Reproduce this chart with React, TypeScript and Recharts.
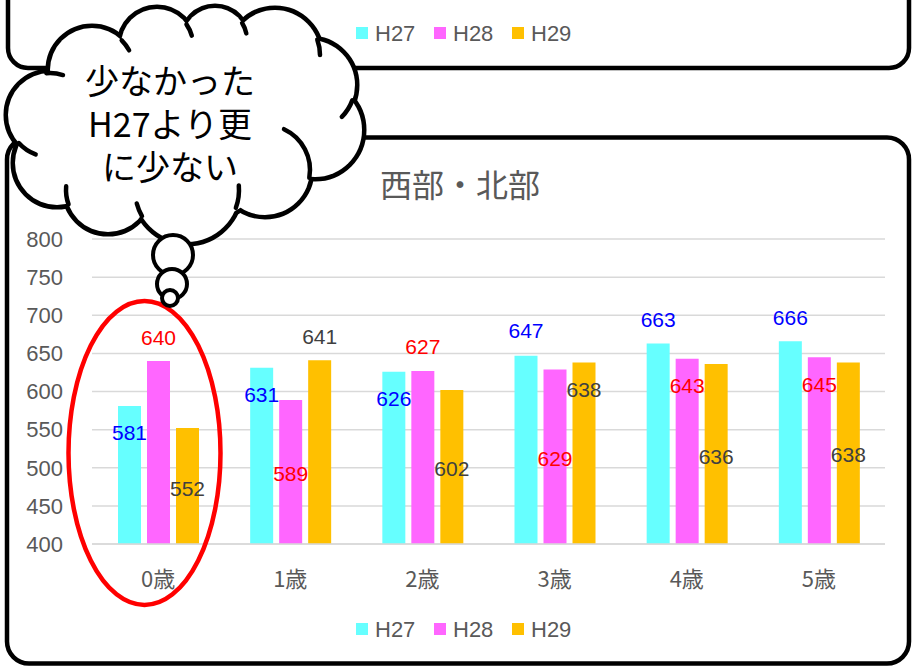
import React from "react";
import { BarChart, Bar, XAxis, YAxis, CartesianGrid, LabelList } from "recharts";

const categories = ["0歳", "1歳", "2歳", "3歳", "4歳", "5歳"];
const h27 = [581, 631, 626, 647, 663, 666];
const h28 = [640, 589, 627, 629, 643, 645];
const h29 = [552, 641, 602, 638, 636, 638];
const yTicks = [400, 450, 500, 550, 600, 650, 700, 750, 800];
const seriesNames = ["H27", "H28", "H29"];
const chartTitle = "西部・北部";
const calloutLines = ["少なかった", "H27より更", "に少ない"];

const barColors = ["#66FFFF", "#FF66FF", "#FFC000"];
const labelColors = ["#0000FF", "#FF0000", "#404040"];
// labels were dragged around by hand in the sheet: px from bar top to label centre
const labelDy = [
  [27, 27, 27, -25, -24, -24],
  [-24, 74, -24, 89, 27, 27],
  [60, -24, 79, 27, 92, 92],
];

const latin = "'Liberation Sans', Arial, sans-serif";
const jp = "'Noto Sans CJK JP', sans-serif";
const grey = "#595959";

const data = categories.map((cat, i) => ({
  cat,
  H27: h27[i],
  H28: h28[i],
  H29: h29[i],
}));

// cloud callout = union of circles (cx, cy, r)
const cloudLobes = [
  [92, 70, 42],
  [157, 45, 36],
  [215, 40, 32],
  [275, 55, 45],
  [310, 85, 45],
  [315, 130, 47],
  [265, 170, 45],
  [187, 190, 52],
  [108, 190, 42],
  [57, 163, 42],
  [50, 115, 42],
  [184, 125, 100],
  [95, 135, 25],
];
// little inner arcs where the lobes meet: [lobe, fromDeg, toDeg]
const cloudTicks = [
  [0, -45, -28],
  [1, -35, -15],
  [2, -32, -12],
  [3, -20, 0],
  [4, 20, 45],
  [6, 10, -65],
  [7, 20, -5],
  [7, 150, 165],
  [8, 160, 185],
  [10, 138, 110],
  [10, -95, -72],
];
const bubbles = [
  [173, 255, 20],
  [172, 284, 15],
  [170, 298, 8],
];

const arcPath = (lobe: number, a0: number, a1: number) => {
  const [cx, cy, r] = cloudLobes[lobe];
  const p = (a: number) => [cx + r * Math.cos((a * Math.PI) / 180), cy + r * Math.sin((a * Math.PI) / 180)];
  const [x0, y0] = p(a0);
  const [x1, y1] = p(a1);
  return `M${x0} ${y0} A${r} ${r} 0 0 ${a1 > a0 ? 1 : 0} ${x1} ${y1}`;
};

const makeLabel = (s: number) => (props: any) => {
  const { x, y, width, value, index } = props;
  return (
    <text
      x={Number(x) + Number(width) / 2}
      y={Number(y) + labelDy[s][index]}
      textAnchor="middle"
      dominantBaseline="central"
      fontSize={21}
      fontFamily={latin}
      fill={labelColors[s]}
    >
      {value}
    </text>
  );
};

const Legend = ({ top }: { top: number }) => (
  <g>
    {seriesNames.map((name, i) => (
      <g key={name}>
        <rect x={356 + i * 78} y={top - 6} width={12} height={12} fill={barColors[i]} />
        <text
          x={375 + i * 78}
          y={top}
          dominantBaseline="central"
          fontSize={22}
          fontFamily={latin}
          fill={grey}
        >
          {name}
        </text>
      </g>
    ))}
  </g>
);

export default function App() {
  return (
    <div
      style={{
        position: "absolute",
        left: 0,
        top: 0,
        width: 912,
        height: 667,
        background: "#fff",
        overflow: "hidden",
      }}
    >
      {/* the two panel frames */}
      <svg width={912} height={667} style={{ position: "absolute", left: 0, top: 0 }}>
        <rect x={8} y={-60} width={901} height={128} rx={20} fill="#fff" stroke="#000" strokeWidth={4.5} />
        <rect x={7} y={137.5} width={902} height={526} rx={22} fill="#fff" stroke="#000" strokeWidth={4.5} />
      </svg>

      <div style={{ position: "absolute", left: 0, top: 0 }}>
        <BarChart
          width={912}
          height={667}
          data={data}
          margin={{ top: 239, right: 27, bottom: 93, left: 32 }}
          barSize={23}
          barGap={6}
        >
          <CartesianGrid vertical={false} stroke="#D9D9D9" strokeWidth={1.5} />
          <XAxis
            dataKey="cat"
            height={30}
            tickLine={false}
            tickSize={0}
            tickMargin={0}
            axisLine={{ stroke: "#D9D9D9", strokeWidth: 1.5 }}
            tick={(p: any) => (
              <text
                x={p.x}
                y={p.y + 33}
                textAnchor="middle"
                dominantBaseline="central"
                fontSize={22}
                fontFamily={jp}
                fill={grey}
              >
                {p.payload.value}
              </text>
            )}
          />
          <YAxis
            width={60}
            domain={[400, 800]}
            ticks={yTicks}
            axisLine={false}
            tickLine={false}
            tickSize={0}
            tickMargin={29}
            tick={{ fontSize: 22, fill: grey, fontFamily: latin }}
          />
          {seriesNames.map((name, s) => (
            <Bar key={name} dataKey={name} fill={barColors[s]} isAnimationActive={false}>
              <LabelList dataKey={name} content={makeLabel(s)} />
            </Bar>
          ))}
        </BarChart>
      </div>

      {/* title, legends and the hand-drawn annotations */}
      <svg width={912} height={667} style={{ position: "absolute", left: 0, top: 0 }}>
        <text x={460} y={183} textAnchor="middle" dominantBaseline="central" fontSize={32} fontFamily={jp} fill={grey}>
          {chartTitle}
        </text>
        <Legend top={33} />
        <Legend top={629} />

        <ellipse cx={144.5} cy={453} rx={76} ry={152} fill="none" stroke="#FF0000" strokeWidth={4.5} />

        <g>
          {cloudLobes.map(([cx, cy, r], i) => (
            <circle key={i} cx={cx} cy={cy} r={r} fill="#fff" stroke="#000" strokeWidth={9} />
          ))}
        </g>
        <g>
          {cloudLobes.map(([cx, cy, r], i) => (
            <circle key={i} cx={cx} cy={cy} r={r} fill="#fff" />
          ))}
        </g>
        <g fill="none" stroke="#000" strokeWidth={4.5} strokeLinecap="round">
          {cloudTicks.map(([l, a0, a1], i) => (
            <path key={i} d={arcPath(l, a0, a1)} />
          ))}
        </g>
        {bubbles.map(([cx, cy, r], i) => (
          <circle key={i} cx={cx} cy={cy} r={r} fill="#fff" stroke="#000" strokeWidth={4} />
        ))}
        <text textAnchor="middle" fontSize={34} fontFamily={jp} fill="#000">
          {calloutLines.map((line, i) => (
            <tspan key={i} x={170} y={79 + i * 43} dominantBaseline="central">
              {line}
            </tspan>
          ))}
        </text>
      </svg>
    </div>
  );
}
